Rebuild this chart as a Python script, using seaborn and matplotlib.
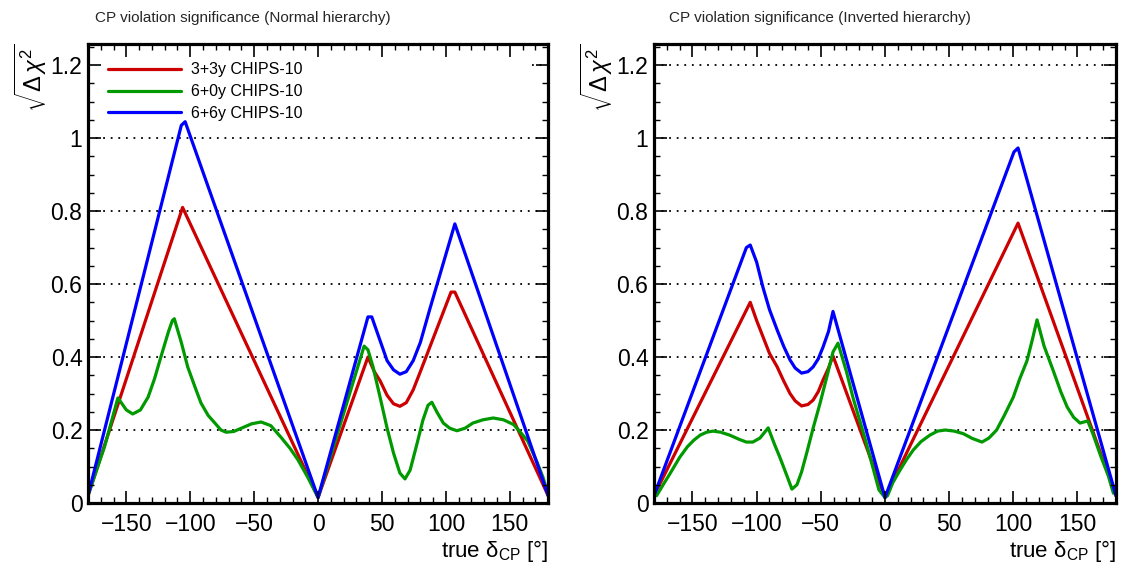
import numpy as np
import pandas as pd
import matplotlib
matplotlib.use("Agg")
import matplotlib.pyplot as plt
import seaborn as sns
from matplotlib.ticker import MultipleLocator, FormatStrFormatter

# ---------------- data ----------------
series_names = ["3+3y CHIPS-10", "6+0y CHIPS-10", "6+6y CHIPS-10"]
series_colors = ["#cc0000", "#009900", "#0000ff"]
panel_titles = ["CP violation significance (Normal hierarchy)",
                "CP violation significance (Inverted hierarchy)"]
x_ticks = [-150, -100, -50, 0, 50, 100, 150]
y_ticks = [0, 0.2, 0.4, 0.6, 0.8, 1.0, 1.2]

# Normal hierarchy
nh_33_x = [-180, -106, 0, 39, 44, 48.5, 54, 59, 64, 69, 74.4, 80, 87.7, 104, 107, 180]
nh_33_y = [0.02, 0.81, 0.015, 0.40, 0.36, 0.335, 0.295, 0.272, 0.265, 0.275, 0.31, 0.36, 0.43, 0.578, 0.578, 0.02]

nh_60_x = [-180, -167, -156.6, -150, -145, -139, -133, -128, -123, -117, -114, -112.5,
           -107, -102, -96, -91.6, -86, -80.7, -76, -72, -66, -60, -52, -44.6, -37, -29,
           -22, -15.7, -8, 0, 36, 39, 43, 48.5, 54, 59, 64, 68, 72, 77.5, 82, 86, 89, 93,
           98, 103, 108.6, 115, 121, 129, 137, 145, 153, 158, 164, 171.5, 176, 180]
nh_60_y = [0.02, 0.155, 0.288, 0.255, 0.244, 0.255, 0.29, 0.34, 0.40, 0.47, 0.50, 0.505,
           0.44, 0.373, 0.315, 0.274, 0.24, 0.219, 0.20, 0.194, 0.196, 0.205, 0.217, 0.222, 0.212, 0.18,
           0.15, 0.118, 0.07, 0.015, 0.43, 0.42, 0.373, 0.29, 0.205, 0.137, 0.082, 0.066, 0.09, 0.164,
           0.227, 0.268, 0.276, 0.249, 0.219, 0.205, 0.198, 0.205, 0.219, 0.228, 0.233, 0.228, 0.215,
           0.195, 0.17, 0.11, 0.07, 0.022]

nh_66_x = [-180, -107, -104, 0, 39, 42, 48.5, 54, 59, 64, 69, 74.4, 80, 87.7, 107, 180]
nh_66_y = [0.02, 1.035, 1.045, 0.015, 0.51, 0.51, 0.445, 0.39, 0.365, 0.353, 0.36, 0.39, 0.44, 0.535, 0.765, 0.02]

# Inverted hierarchy
ih_33_x = [-180, -105, -100, -95, -90, -84, -79, -74, -70, -65, -60, -56, -52, -48.3, -44, -40.5,
           0, 103.7, 180]
ih_33_y = [0.02, 0.55, 0.50, 0.455, 0.41, 0.373, 0.335, 0.30, 0.28, 0.266, 0.27, 0.282, 0.305,
           0.337, 0.37, 0.403, 0.015, 0.767, 0.02]

ih_60_x = [-178, -172, -167.6, -160, -154, -149, -144, -139, -134, -128, -121, -114, -108, -103,
           -97.4, -91, -86, -82, -77, -72.5, -68.6, -65, -61, -56, -50.7, -45, -40.5, -36.6, -30,
           -25, -15, -4.7, 0, 2, 6, 11.7, 17, 22, 28, 35, 41, 47, 54, 61, 68, 75.6, 81, 87, 93,
           100, 105, 110.7, 115, 118.5, 124, 131, 137, 142, 147, 152, 155, 158, 162, 168, 174, 178]
ih_60_y = [0.02, 0.055, 0.08, 0.125, 0.154, 0.172, 0.186, 0.194, 0.197, 0.194, 0.186, 0.175, 0.167,
           0.167, 0.178, 0.206, 0.16, 0.126, 0.08, 0.038, 0.05, 0.085, 0.137, 0.205, 0.272, 0.35,
           0.414, 0.438, 0.36, 0.29, 0.17, 0.036, 0.015, 0.02, 0.055, 0.09, 0.12, 0.145, 0.168, 0.186,
           0.197, 0.20, 0.197, 0.19, 0.177, 0.167, 0.178, 0.20, 0.24, 0.29, 0.34, 0.39, 0.45, 0.502,
           0.43, 0.364, 0.305, 0.263, 0.235, 0.219, 0.222, 0.225, 0.19, 0.13, 0.075, 0.027]

ih_66_x = [-180, -108, -105, -100, -95, -90, -84, -79, -74, -70, -65, -60, -56, -52, -48.3, -44,
           -40.5, 0, 100.5, 103.7, 180]
ih_66_y = [0.02, 0.70, 0.707, 0.66, 0.59, 0.53, 0.474, 0.43, 0.392, 0.37, 0.356, 0.36, 0.373, 0.395,
           0.427, 0.47, 0.525, 0.015, 0.962, 0.973, 0.02]

panels = [
    [(nh_33_x, nh_33_y), (nh_60_x, nh_60_y), (nh_66_x, nh_66_y)],
    [(ih_33_x, ih_33_y), (ih_60_x, ih_60_y), (ih_66_x, ih_66_y)],
]

# ---------------- style ----------------
sns.set_theme(style="ticks")
plt.rcParams["font.family"] = ["Liberation Sans", "DejaVu Sans"]
plt.rcParams["mathtext.fontset"] = "custom"
plt.rcParams["mathtext.rm"] = "Liberation Sans"
plt.rcParams["mathtext.it"] = "Liberation Sans:italic"
plt.rcParams["mathtext.bf"] = "Liberation Sans:bold"
plt.rcParams["axes.unicode_minus"] = True

fig = plt.figure(figsize=(11.21, 5.69), dpi=100)
rects = [[0.0785, 0.116, 0.4105, 0.8067], [0.5834, 0.116, 0.4121, 0.8067]]
title_x = [95 / 1121, 669 / 1121]

for p, (rect, series) in enumerate(zip(rects, panels)):
    ax = fig.add_axes(rect)
    frames = []
    for name, (xs, ys) in zip(series_names, series):
        frames.append(pd.DataFrame({"x": xs, "y": ys, "series": name}))
    df = pd.concat(frames, ignore_index=True)
    sns.lineplot(data=df, x="x", y="y", hue="series", hue_order=series_names,
                 palette=series_colors, estimator=None, sort=False, linewidth=2.3,
                 legend=False, ax=ax, zorder=2)
    handles = list(ax.lines)

    ax.set_xlim(-180, 180)
    ax.set_ylim(0, 1.258)
    ax.set_axisbelow(False)
    for yv in y_ticks[1:]:
        # in the left panel the legend box hides most of the top grid line
        x_start = 0.965 if (p == 0 and yv == y_ticks[-1]) else 0.0
        ax.axhline(yv, xmin=x_start, color="black", linestyle=(0, (1, 3.2)),
                   linewidth=1.3, zorder=0.5)

    ax.set_xticks(x_ticks)
    ax.set_yticks(y_ticks)
    ax.yaxis.set_major_formatter(FormatStrFormatter("%g"))
    ax.xaxis.set_minor_locator(MultipleLocator(10))
    ax.yaxis.set_minor_locator(MultipleLocator(0.05))
    ax.tick_params(which="both", direction="in", top=True, right=True, colors="black")
    ax.tick_params(which="major", length=9, width=1.2, labelsize=16.5)
    ax.tick_params(which="minor", length=4.5, width=1.0)
    ax.tick_params(axis="x", which="major", pad=7)
    ax.tick_params(axis="y", which="major", pad=4)
    for s in ax.spines.values():
        s.set_linewidth(2.3)
        s.set_color("black")

    ax.set_xlabel("true δ$_{\\mathrm{CP}}$ [°]", fontsize=16, loc="right", labelpad=2, color="black")
    ax.set_ylabel(r"$\sqrt{\Delta\,\chi^{2}}$", fontsize=17, loc="top", color="black")
    ax.yaxis.set_label_coords(-0.085, 1.0)

    fig.text(title_x[p], 1 - 18 / 569, panel_titles[p], fontsize=11, ha="left", va="center")

    if p == 0:
        leg = ax.legend(handles, series_names, loc="upper left",
                        bbox_to_anchor=(0.043, 0.960), borderaxespad=0.0,
                        frameon=False, fontsize=11.5, handlelength=4.6,
                        handletextpad=0.62, labelspacing=0.43, borderpad=0.0)
        for t in leg.get_texts():
            t.set_color("black")

fig.savefig("out.png", dpi=100)
